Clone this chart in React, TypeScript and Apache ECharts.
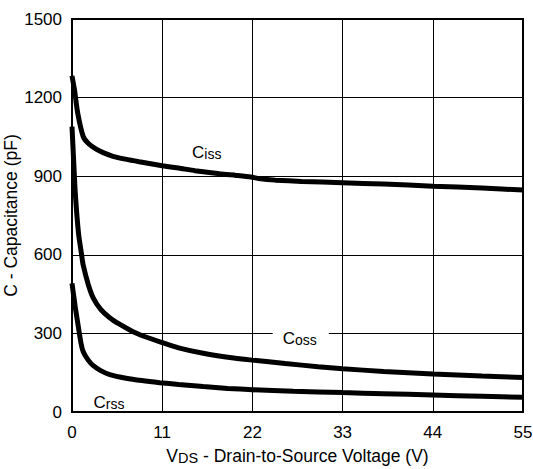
import React, { useEffect, useRef } from "react";
import * as echarts from "echarts";

const xTicks = [0, 11, 22, 33, 44, 55];
const yTicks = [0, 300, 600, 900, 1200, 1500];

const ciss: [number, number][] = [
  [0, 1283], [0.3, 1230], [0.7, 1140], [1.37, 1051], [2, 1025], [3, 1002], [3.8, 990],
  [5, 976], [6.5, 965], [8.2, 955], [11, 940], [13, 931], [15, 921], [18, 909], [20, 903],
  [21.8, 897], [23, 890], [24.8, 885], [28, 880], [33, 875], [38, 870], [44, 862], [50, 855], [55, 847],
];

const coss: [number, number][] = [
  [0, 1089], [0.2, 960], [0.4, 836], [0.8, 680], [1.17, 600], [1.37, 560], [2, 485], [2.6, 435],
  [3.5, 392], [4.6, 360], [5.8, 335], [7, 314], [8.5, 292], [11, 265], [13, 245], [16, 224],
  [19, 209], [22, 198], [26, 185], [30, 173], [33, 165], [38, 155], [44, 145], [50, 137], [55, 132],
];

const crss: [number, number][] = [
  [0, 491], [0.4, 400], [0.77, 326], [1.1, 262], [1.37, 230], [2, 197], [2.6, 177], [3.5, 158],
  [4.6, 143], [6.6, 129], [8.5, 120], [10.7, 112], [13, 105], [16, 97], [19, 90], [22, 85],
  [27, 79], [33, 74], [38, 70], [44, 65], [50, 60], [55, 56],
];

const FONT = "'Liberation Sans', Arial, Helvetica, sans-serif";

const subRich = {
  c: { fontSize: 17, fontFamily: FONT, color: "#000", lineHeight: 22, verticalAlign: "bottom" },
  s: { fontSize: 14, fontFamily: FONT, color: "#000", lineHeight: 15, verticalAlign: "bottom" },
};

export default function App() {
  const ref = useRef<HTMLDivElement>(null);
  useEffect(() => {
    document.body.style.margin = "0";
    if (!ref.current) return;
    const chart = echarts.init(ref.current, undefined, { renderer: "svg" });
    const lineSeries = (name: string, data: [number, number][]) => ({
      name,
      type: "line",
      data,
      smooth: 0.2,
      showSymbol: false,
      symbol: "none",
      lineStyle: { color: "#000", width: 5 },
      z: 5,
    });
    chart.setOption({
      animation: false,
      backgroundColor: "#fff",
      grid: {
        left: 72,
        top: 19,
        right: 10,
        bottom: 57,
        containLabel: false,
        outerBoundsMode: "none",
        show: true,
        borderColor: "#000",
        borderWidth: 2,
        backgroundColor: "transparent",
      },
      xAxis: {
        type: "value",
        min: xTicks[0],
        max: xTicks[xTicks.length - 1],
        interval: 11,
        axisLine: { show: true, lineStyle: { color: "#000", width: 2 } },
        axisTick: { show: false },
        splitLine: { show: true, lineStyle: { color: "#000", width: 1 } },
        axisLabel: { color: "#000", fontSize: 17, fontFamily: FONT, margin: 12, formatter: (v: number) => String(v) },
        name: "{v|V}{d|DS}{t| - Drain-to-Source Voltage (V)}",
        nameLocation: "middle",
        nameGap: 32,
        nameTextStyle: {
          rich: {
            v: { fontSize: 17.5, fontFamily: FONT, color: "#000", lineHeight: 21, verticalAlign: "bottom" },
            d: { fontSize: 14.5, fontFamily: FONT, color: "#000", lineHeight: 14, verticalAlign: "bottom" },
            t: { fontSize: 17.5, fontFamily: FONT, color: "#000", lineHeight: 21, verticalAlign: "bottom" },
          },
        },
      },
      yAxis: {
        type: "value",
        min: yTicks[0],
        max: yTicks[yTicks.length - 1],
        interval: 300,
        axisLine: { show: true, lineStyle: { color: "#000", width: 2 } },
        axisTick: { show: false },
        splitLine: { show: true, lineStyle: { color: "#000", width: 1 } },
        axisLabel: { color: "#000", fontSize: 17, fontFamily: FONT, margin: 10, formatter: (v: number) => String(v) },
        name: "C - Capacitance (pF)",
        nameLocation: "middle",
        nameRotate: 90,
        nameGap: 52,
        nameMoveOverlap: false,
        nameTextStyle: { color: "#000", fontSize: 17.5, fontFamily: FONT },
      },
      series: [lineSeries("Ciss", ciss), lineSeries("Coss", coss), lineSeries("Crss", crss)],
      graphic: [
        {
          type: "text",
          x: 192,
          y: 138.5,
          z: 10,
          style: { text: "{c|C}{s|iss}", rich: subRich },
        },
        {
          type: "text",
          x: 272.7,
          y: 325,
          z: 10,
          style: {
            text: "{c|C}{s|oss}",
            rich: subRich,
            backgroundColor: "#fff",
            padding: [0, 12, 0, 10],
          },
        },
        {
          type: "text",
          x: 93.5,
          y: 388.5,
          z: 10,
          style: { text: "{c|C}{s|rss}", rich: subRich },
        },
      ],
    });
    return () => chart.dispose();
  }, []);
  return <div ref={ref} style={{ width: 533, height: 469 }} />;
}
